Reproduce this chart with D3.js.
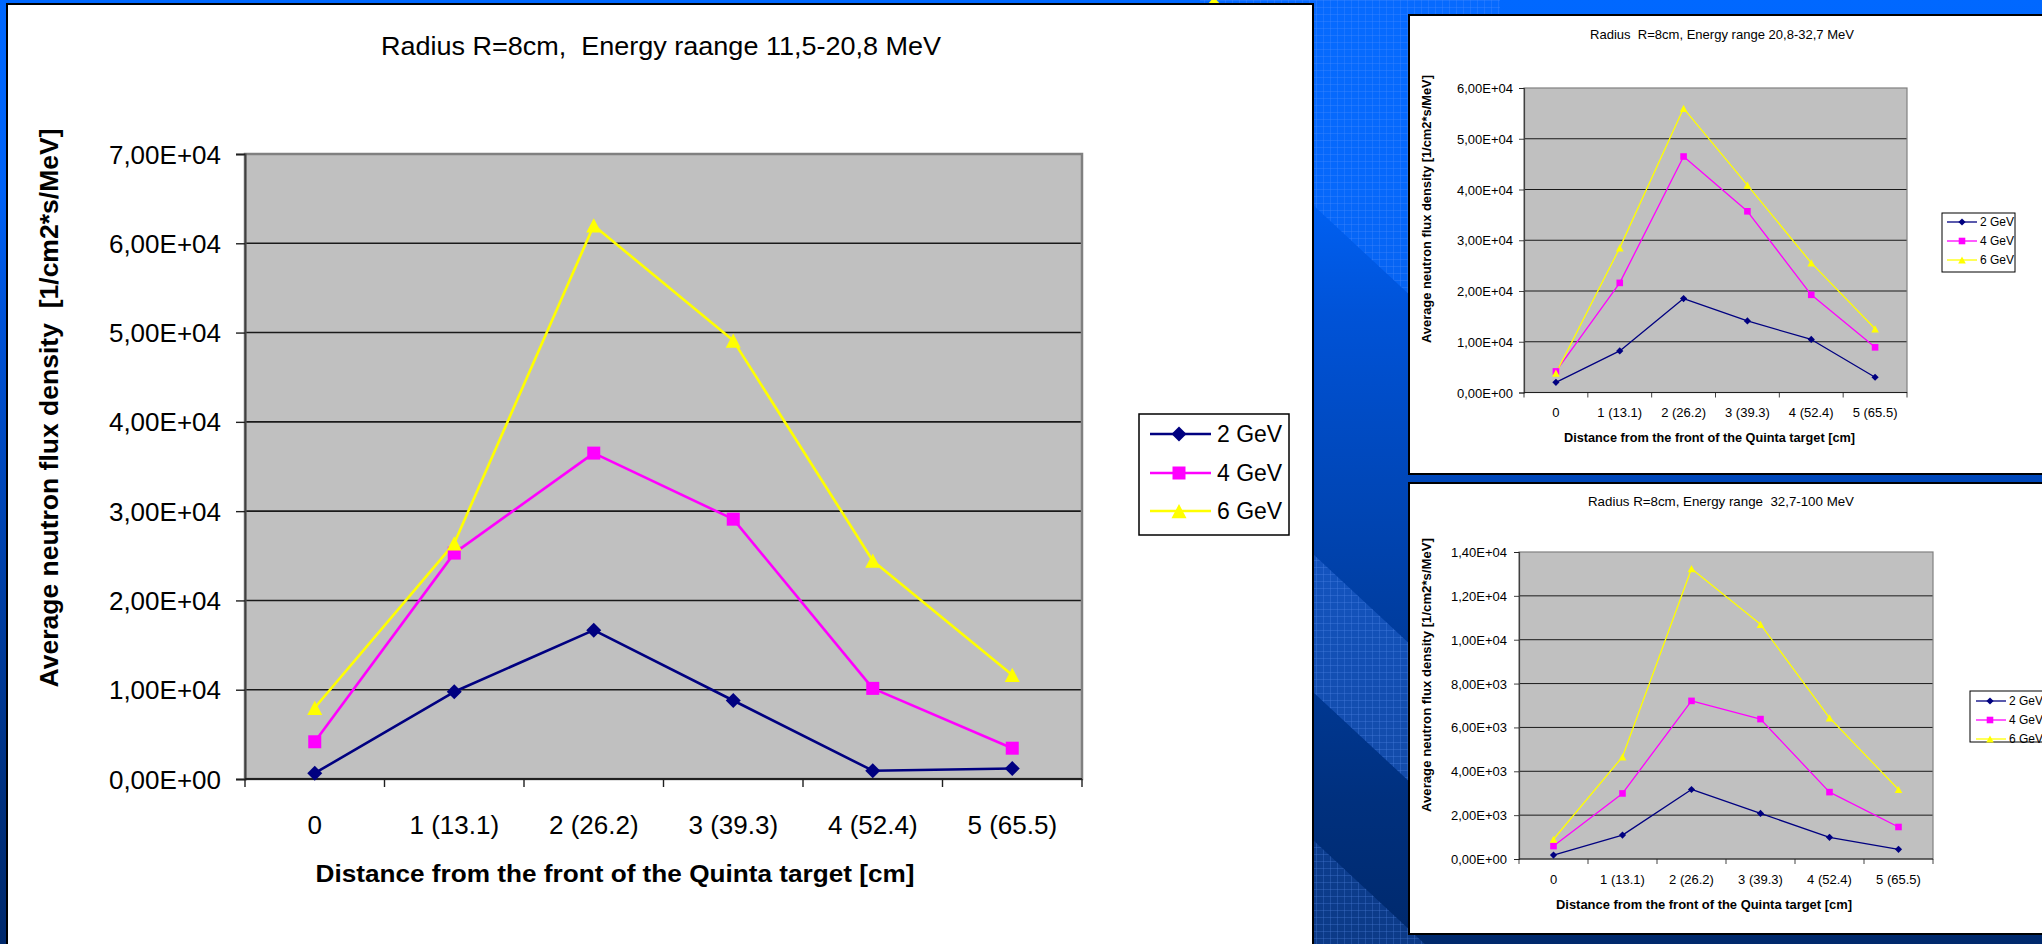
<!DOCTYPE html>
<html><head><meta charset="utf-8">
<script src="https://cdn.jsdelivr.net/npm/d3@7"></script>
<style>
html,body{margin:0;padding:0;overflow:hidden;background:#0050d0;}
svg{display:block;}
text{font-family:"Liberation Sans",Arial,sans-serif;fill:#000;white-space:pre;}
</style></head><body>
<svg id="c" width="2042" height="944"></svg>
<script>
// ---------------- DATA ----------------
const categories = ["0", "1 (13.1)", "2 (26.2)", "3 (39.3)", "4 (52.4)", "5 (65.5)"];
const seriesNames = ["2 GeV", "4 GeV", "6 GeV"];

// Energy range 11,5-20,8 MeV (main chart)
const main2GeV = [650, 9770, 16670, 8790, 930, 1170];
const main4GeV = [4170, 25300, 36500, 29100, 10150, 3450];
const main6GeV = [7980, 26400, 62000, 49100, 24450, 11650];

// Energy range 20,8-32,7 MeV (upper right chart)
const mid2GeV = [2000, 8200, 18500, 14100, 10450, 3000];
const mid4GeV = [4150, 21600, 46500, 35700, 19250, 8900];
const mid6GeV = [3800, 28500, 56000, 40850, 25550, 12550];

// Energy range 32,7-100 MeV (lower right chart)
const low2GeV = [180, 1090, 3170, 2080, 990, 440];
const low4GeV = [590, 2990, 7210, 6380, 3050, 1460];
const low6GeV = [900, 4660, 13240, 10700, 6440, 3170];

const mainTicks = [0, 10000, 20000, 30000, 40000, 50000, 60000, 70000];
const midTicks = [0, 10000, 20000, 30000, 40000, 50000, 60000];
const lowTicks = [0, 2000, 4000, 6000, 8000, 10000, 12000, 14000];

const mainTitle = "Radius R=8cm,  Energy raange 11,5-20,8 MeV";
const midTitle = "Radius  R=8cm, Energy range 20,8-32,7 MeV";
const lowTitle = "Radius R=8cm, Energy range  32,7-100 MeV";
const xAxisTitle = "Distance from the front of the Quinta target [cm]";
const yAxisTitleMain = "Average neutron flux density  [1/cm2*s/MeV]";
const yAxisTitleSmall = "Average neutron flux density [1/cm2*s/MeV]";

// ---------------- STYLE ----------------
const seriesColors = ["#000080", "#ff00ff", "#ffff00"];
const FONT = '"Liberation Sans", Arial, sans-serif';

function sci(v) {
  const [m, e] = v.toExponential(2).split("e");
  const ei = parseInt(e, 10);
  return m.replace(".", ",") + "E" + (ei < 0 ? "-" : "+") + String(Math.abs(ei)).padStart(2, "0");
}

// marker shapes (size = half width)
const diamondT = { draw(ctx, r) { ctx.moveTo(0, -r); ctx.lineTo(r, 0); ctx.lineTo(0, r); ctx.lineTo(-r, 0); ctx.closePath(); } };
const squareT = { draw(ctx, r) { ctx.moveTo(-r, -r); ctx.lineTo(r, -r); ctx.lineTo(r, r); ctx.lineTo(-r, r); ctx.closePath(); } };
const triangleT = { draw(ctx, r) { const h = r * 0.95; ctx.moveTo(0, -h); ctx.lineTo(r, h); ctx.lineTo(-r, h); ctx.closePath(); } };
const markerTypes = [diamondT, squareT, triangleT];

const svg = d3.select("#c");
const defs = svg.append("defs");

// ---------------- BACKGROUND ----------------
const lg = defs.append("linearGradient").attr("id", "bg").attr("x1", 0).attr("y1", 0).attr("x2", 0).attr("y2", 1);
[[0, "#0068ff"], [0.2, "#0062f6"], [0.33, "#0053d8"], [0.6, "#0041aa"], [0.85, "#00307e"], [1, "#00296c"]]
  .forEach(([o, c]) => lg.append("stop").attr("offset", o).attr("stop-color", c));
const pat = defs.append("pattern").attr("id", "grid").attr("width", 7).attr("height", 7).attr("patternUnits", "userSpaceOnUse");
pat.append("path").attr("d", "M0,0.5H7M0.5,0V7").attr("stroke", "rgba(110,160,255,0.35)").attr("stroke-width", 1);

svg.append("rect").attr("width", 2042).attr("height", 944).attr("fill", "url(#bg)");
const slope = 0.93;
function band(a, b, fill, op) {
  const xa = 1200, xb = 1500;
  const pts = [[xa, a + slope * (xa - 1313)], [xb, a + slope * (xb - 1313)], [xb, b + slope * (xb - 1313)], [xa, b + slope * (xa - 1313)]];
  svg.append("polygon").attr("points", pts.map(p => p.join(",")).join(" ")).attr("fill", fill).attr("opacity", op);
  svg.append("polygon").attr("points", pts.map(p => p.join(",")).join(" ")).attr("fill", "url(#grid)").attr("opacity", 0.6);
}
band(-400, 205, "#0a6cff", 0.6);
band(554, 692, "#2a6ad8", 0.45);
band(840, 1100, "#1a4fa8", 0.45);
// stray yellow marker peeking at the top
svg.append("polygon").attr("points", "1208,4 1214,-3 1220,4").attr("fill", "#ffff00");

// ---------------- CHART ----------------
function drawChart(cfg) {
  const g = svg.append("g");
  g.append("rect").attr("x", cfg.panel[0]).attr("y", cfg.panel[1]).attr("width", cfg.panel[2]).attr("height", cfg.panel[3])
    .attr("fill", "#fff").attr("stroke", "#000").attr("stroke-width", cfg.panelStroke);

  const p = cfg.plot;
  const x = d3.scaleBand().domain(categories).range([p.x0, p.x1]).padding(0);
  const y = d3.scaleLinear().domain([0, d3.max(cfg.ticks)]).range([p.y1, p.y0]);
  const bw = x.bandwidth();

  g.append("rect").attr("x", p.x0).attr("y", p.y0).attr("width", p.x1 - p.x0).attr("height", p.y1 - p.y0).attr("fill", "#c0c0c0");

  // gridlines
  g.append("g").selectAll("line").data(cfg.ticks.slice(1, -1)).join("line")
    .attr("x1", p.x0).attr("x2", p.x1).attr("y1", d => y(d)).attr("y2", d => y(d))
    .attr("stroke", "#1a1a1a").attr("stroke-width", cfg.gridW);
  // plot border
  g.append("rect").attr("x", p.x0).attr("y", p.y0).attr("width", p.x1 - p.x0).attr("height", p.y1 - p.y0)
    .attr("fill", "none").attr("stroke", "#808080").attr("stroke-width", cfg.borderW);

  // y axis
  const ya = g.append("g").attr("transform", `translate(${p.x0},0)`)
    .call(d3.axisLeft(y).tickValues(cfg.ticks).tickFormat(sci).tickSize(cfg.yTickLen).tickPadding(p.x0 - cfg.yLabelRight - cfg.yTickLen));
  ya.select(".domain").attr("stroke", "#404040").attr("stroke-width", cfg.axisW);
  ya.selectAll(".tick line").attr("stroke", "#202020").attr("stroke-width", cfg.axisW * 0.7);
  ya.selectAll(".tick text").attr("font-family", FONT).attr("font-size", cfg.tickFs).attr("fill", "#000").attr("dy", "0.35em");

  // x axis (labels centered in bands, ticks on band boundaries)
  const xa = g.append("g").attr("transform", `translate(0,${p.y1})`)
    .call(d3.axisBottom(x).tickSize(0).tickPadding(0));
  xa.select(".domain").remove();
  xa.selectAll(".tick text").attr("font-family", FONT).attr("font-size", cfg.tickFs).attr("fill", "#000")
    .attr("dy", null).attr("y", cfg.xLabelBaseline - p.y1);
  const bounds = categories.map(c => x(c)).concat([p.x1]);
  g.append("line").attr("x1", p.x0).attr("x2", p.x1).attr("y1", p.y1).attr("y2", p.y1).attr("stroke", "#202020").attr("stroke-width", cfg.axisW);
  g.append("g").selectAll("line").data(bounds).join("line")
    .attr("x1", d => d).attr("x2", d => d).attr("y1", p.y1).attr("y2", p.y1 + cfg.xTickLen)
    .attr("stroke", "#202020").attr("stroke-width", cfg.axisW * 0.7);

  // series
  const line = d3.line().x((d, i) => x(categories[i]) + bw / 2).y(d => y(d));
  cfg.series.forEach((vals, si) => {
    g.append("path").datum(vals).attr("d", line).attr("fill", "none")
      .attr("stroke", seriesColors[si]).attr("stroke-width", cfg.lineW).attr("stroke-linejoin", "round");
  });
  cfg.series.forEach((vals, si) => {
    g.append("g").selectAll("path").data(vals).join("path")
      .attr("transform", (d, i) => `translate(${x(categories[i]) + bw / 2},${y(d)})`)
      .attr("d", d3.symbol().type(markerTypes[si]).size(cfg.markerR[si]))
      .attr("fill", seriesColors[si]);
  });

  // titles
  g.append("text").attr("x", cfg.title.x).attr("y", cfg.title.y).attr("text-anchor", "middle")
    .attr("font-size", cfg.title.fs).attr("textLength", cfg.title.len).attr("lengthAdjust", "spacingAndGlyphs").text(cfg.titleText);
  g.append("text").attr("x", cfg.xTitle.x).attr("y", cfg.xTitle.y).attr("text-anchor", "middle").attr("font-weight", "bold")
    .attr("font-size", cfg.xTitle.fs).attr("textLength", cfg.xTitle.len).attr("lengthAdjust", "spacingAndGlyphs").text(xAxisTitle);
  g.append("text").attr("transform", `translate(${cfg.yTitle.x},${cfg.yTitle.y}) rotate(-90)`).attr("text-anchor", "middle")
    .attr("font-weight", "bold").attr("font-size", cfg.yTitle.fs).attr("textLength", cfg.yTitle.len).attr("lengthAdjust", "spacingAndGlyphs")
    .text(cfg.yTitleText);

  // legend
  const L = cfg.legend;
  g.append("rect").attr("x", L.box[0]).attr("y", L.box[1]).attr("width", L.box[2]).attr("height", L.box[3])
    .attr("fill", "#fff").attr("stroke", "#000").attr("stroke-width", L.stroke);
  seriesNames.forEach((name, si) => {
    const yy = L.rows[si];
    g.append("line").attr("x1", L.line[0]).attr("x2", L.line[1]).attr("y1", yy).attr("y2", yy)
      .attr("stroke", seriesColors[si]).attr("stroke-width", cfg.lineW);
    g.append("path").attr("transform", `translate(${L.marker},${yy})`)
      .attr("d", d3.symbol().type(markerTypes[si]).size(cfg.markerR[si])).attr("fill", seriesColors[si]);
    g.append("text").attr("x", L.text).attr("y", yy).attr("dy", "0.35em").attr("font-size", L.fs).text(name);
  });
}

drawChart({
  panel: [7, 4, 1306, 960], panelStroke: 2,
  plot: { x0: 245, x1: 1082, y0: 154, y1: 779 },
  ticks: mainTicks, series: [main2GeV, main4GeV, main6GeV],
  tickFs: 26, yLabelRight: 221, yTickLen: 9, xTickLen: 8, xLabelBaseline: 834,
  gridW: 1.6, borderW: 2.5, axisW: 2, lineW: 2.6, markerR: [7.5, 6.5, 7.5],
  titleText: mainTitle, title: { x: 661, y: 55, fs: 25, len: 560 },
  xTitle: { x: 615, y: 882, fs: 24, len: 599 },
  yTitleText: yAxisTitleMain, yTitle: { x: 58, y: 408, fs: 26, len: 559 },
  legend: { box: [1139, 414, 150, 121], rows: [434, 473, 511], line: [1150, 1211], marker: 1179, text: 1217, fs: 23, stroke: 1.5 }
});

drawChart({
  panel: [1409, 15, 700, 459], panelStroke: 2,
  plot: { x0: 1524, x1: 1907, y0: 88, y1: 392.5 },
  ticks: midTicks, series: [mid2GeV, mid4GeV, mid6GeV],
  tickFs: 13, yLabelRight: 1513, yTickLen: 5, xTickLen: 5, xLabelBaseline: 417,
  gridW: 1, borderW: 1.2, axisW: 1.2, lineW: 1.3, markerR: [3.6, 3.3, 3.8],
  titleText: midTitle, title: { x: 1722, y: 39, fs: 13, len: 264 },
  xTitle: { x: 1709.5, y: 442, fs: 13, len: 291 },
  yTitleText: yAxisTitleSmall, yTitle: { x: 1431, y: 209, fs: 13, len: 268 },
  legend: { box: [1942, 213, 73, 59], rows: [222, 241, 260], line: [1947, 1977], marker: 1962, text: 1980, fs: 12, stroke: 1 }
});

drawChart({
  panel: [1409, 483, 700, 451], panelStroke: 2,
  plot: { x0: 1519, x1: 1933, y0: 552, y1: 859 },
  ticks: lowTicks, series: [low2GeV, low4GeV, low6GeV],
  tickFs: 13, yLabelRight: 1507, yTickLen: 5, xTickLen: 5, xLabelBaseline: 884,
  gridW: 1, borderW: 1.2, axisW: 1.2, lineW: 1.3, markerR: [3.6, 3.3, 3.8],
  titleText: lowTitle, title: { x: 1721, y: 506, fs: 13, len: 266 },
  xTitle: { x: 1704, y: 909, fs: 13, len: 296 },
  yTitleText: yAxisTitleSmall, yTitle: { x: 1431, y: 675, fs: 13, len: 274 },
  legend: { box: [1970, 691, 120, 51], rows: [701, 720, 739], line: [1976, 2006], marker: 1990, text: 2009, fs: 12, stroke: 1 }
});
</script>
</body></html>
